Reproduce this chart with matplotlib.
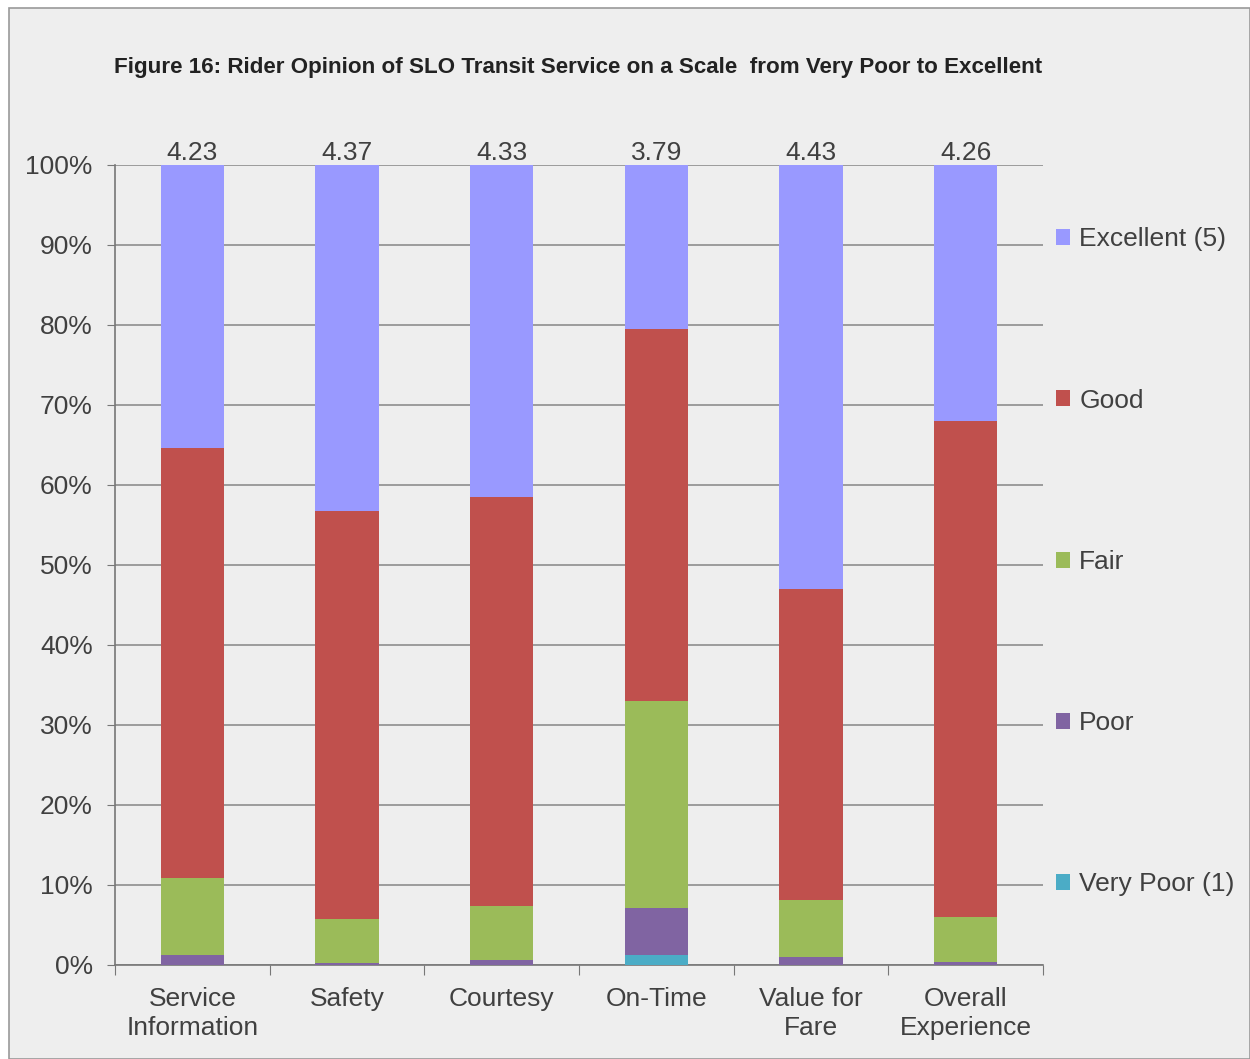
import matplotlib.pyplot as plt
from matplotlib.patches import Rectangle
import numpy as np

plt.rcParams['font.family'] = ['Liberation Sans', 'DejaVu Sans']

categories = ["Service\nInformation", "Safety", "Courtesy", "On-Time", "Value for\nFare", "Overall\nExperience"]
averages = ["4.23", "4.37", "4.33", "3.79", "4.43", "4.26"]

# percent of riders per rating, bottom to top
very_poor = [0.0, 0.0, 0.0, 1.2, 0.0, 0.0]
poor = [1.2, 0.3, 0.6, 5.9, 1.0, 0.4]
fair = [9.7, 5.5, 6.8, 25.9, 7.1, 5.6]
good = [53.7, 51.0, 51.1, 46.5, 38.9, 62.0]
excellent = [35.4, 43.2, 41.5, 20.5, 53.0, 32.0]

series = [
    ("Very Poor (1)", very_poor, "#4BACC6"),
    ("Poor", poor, "#8064A2"),
    ("Fair", fair, "#9BBB59"),
    ("Good", good, "#C0504D"),
    ("Excellent (5)", excellent, "#9999FF"),
]

bg = "#eeeeee"
txt = "#404040"
fs = 19
fig = plt.figure(figsize=(12.5, 10.59), dpi=100, facecolor="white")
fig.patches.append(Rectangle((0.007, 0.0), 0.993, 0.992, transform=fig.transFigure,
                             facecolor=bg, edgecolor="#999999", linewidth=1.2, zorder=-1))
ax = fig.add_axes([0.092, 0.0888, 0.7424, 0.7554])
ax.set_facecolor(bg)

x = np.arange(len(categories))
bottom = np.zeros(len(categories))
handles = []
for label, vals, color in series:
    b = ax.bar(x, vals, width=0.41, bottom=bottom, color=color, label=label, zorder=3)
    handles.append(b)
    bottom += np.array(vals)

ax.set_xlim(-0.5, len(categories) - 0.5)
ax.set_ylim(0, 100)
ax.set_yticks(np.arange(0, 101, 10))
ax.set_yticklabels([f"{v}%" for v in range(0, 101, 10)], fontsize=fs, color=txt)
ax.yaxis.grid(True, color="#858585", linewidth=1.1, zorder=0)
ax.tick_params(axis="y", length=6, color="#777777", pad=10)

ax.set_xticks(np.arange(-0.5, len(categories), 1.0))
ax.set_xticklabels([])
ax.tick_params(axis="x", length=7, color="#777777")
for i, cat in enumerate(categories):
    ax.text(i, -2.75, cat, ha="center", va="top", fontsize=fs, color=txt, linespacing=1.29)

for spine in ["top", "right"]:
    ax.spines[spine].set_visible(False)
ax.spines["left"].set_color("#777777")
ax.spines["bottom"].set_color("#777777")
ax.spines["left"].set_linewidth(1.2)
ax.spines["bottom"].set_linewidth(1.2)

for i, avg in enumerate(averages):
    ax.text(i, 100.0, avg, ha="center", va="bottom", fontsize=fs, color=txt)

ax.legend(handles[::-1], [s[0] for s in series][::-1], loc="upper left",
          bbox_to_anchor=(0.988, 0.9516), frameon=False, fontsize=fs,
          labelspacing=5.2, handlelength=0.55, handleheight=0.55, handletextpad=0.35,
          labelcolor=txt)

fig.text(0.4625, 0.9367, "Figure 16: Rider Opinion of SLO Transit Service on a Scale  from Very Poor to Excellent",
         ha="center", va="center", fontsize=16.1, fontweight="bold", color="#222222")

fig.savefig("out.png", dpi=100, facecolor="white")
